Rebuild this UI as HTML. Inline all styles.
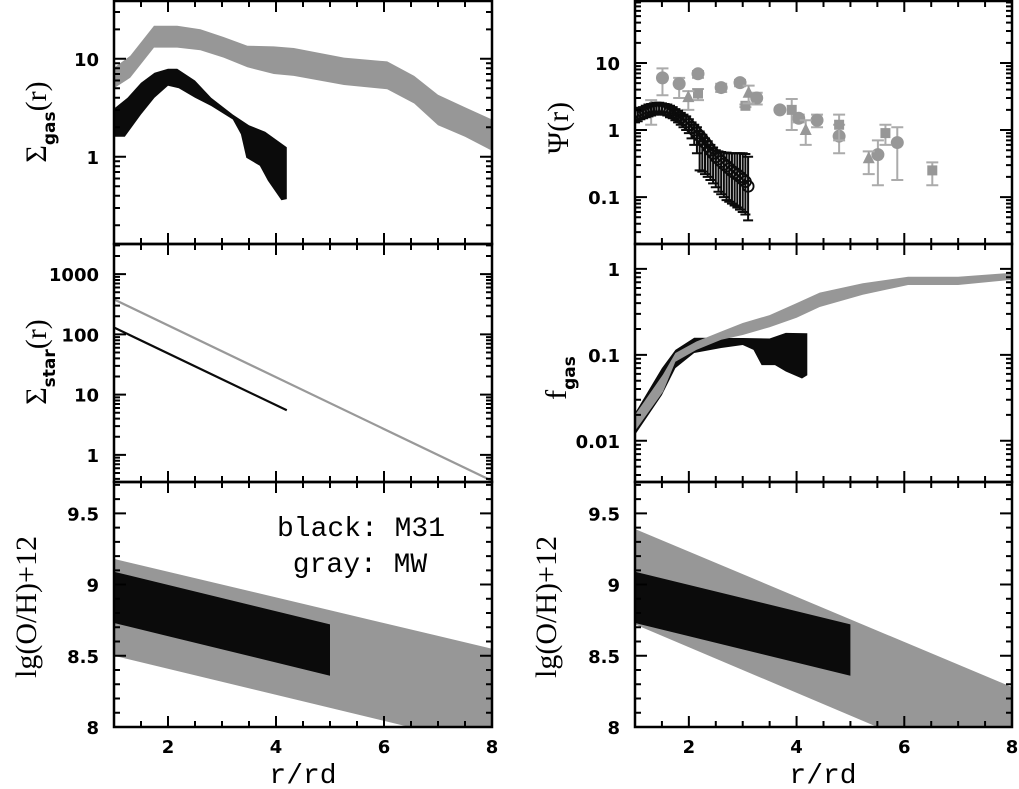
<!DOCTYPE html>
<html><head><meta charset="utf-8"><style>
html,body{margin:0;padding:0;background:#fff;}
svg{display:block;}
.tl{font-family:"DejaVu Sans",sans-serif;font-weight:bold;font-size:18px;fill:#000;}
.ttl{font-family:"Liberation Mono",monospace;font-size:28px;fill:#000;}
.lab{font-family:"Liberation Serif",serif;font-size:30px;fill:#000;}
</style></head><body>
<svg id="fig" width="1019" height="789" viewBox="0 0 1019 789" xmlns="http://www.w3.org/2000/svg"></svg>
<script>
// ---- data ----
const gasMwR = [1.0,1.3,1.74,2.17,2.6,3.03,3.47,3.96,4.33,5.26,6.06,6.56,7.0,7.5,8.0];
const gasMwHi = [8.1,10.7,21.7,21.7,20,16.7,13.6,13.4,12.9,10.3,9.4,6.7,4.3,3.2,2.4];
const gasMwLo = [5.0,6.4,13,13,12.2,10.3,8.2,7.0,6.7,5.4,4.9,3.5,2.1,1.6,1.15];
const gasM31RHi = [1.0,1.25,1.5,1.75,2.0,2.17,2.5,2.8,3.2,3.5,3.8,4.0,4.2];
const gasM31Hi = [3.1,4.0,5.7,7.2,7.9,7.9,6.0,4.0,2.7,2.1,1.8,1.5,1.25];
const gasM31RLo = [1.0,1.2,1.5,1.75,2.0,2.2,2.5,2.8,3.2,3.35,3.45,3.7,3.85,4.1,4.2];
const gasM31Lo = [1.6,1.6,2.7,4.0,5.3,5.0,4.0,3.3,2.4,1.7,0.98,0.81,0.57,0.36,0.37];

const psiM31R = [1.0,1.05,1.1,1.15,1.2,1.25,1.3,1.35,1.4,1.45,1.5,1.55,1.6,1.65,1.7,1.75,1.8,1.85,1.9,1.95,2.0,2.05,2.1,2.15,2.2,2.25,2.3,2.35,2.4,2.45,2.5,2.55,2.6,2.65,2.7,2.75,2.8,2.85,2.9,2.95,3.0,3.05,3.1];
const psiM31 = [1.65,1.7,1.78,1.85,1.92,2.0,2.05,2.1,2.12,2.12,2.1,2.05,2.0,1.9,1.82,1.72,1.62,1.52,1.42,1.32,1.2,1.1,1.0,0.9,0.82,0.73,0.65,0.57,0.5,0.45,0.4,0.37,0.34,0.31,0.29,0.265,0.245,0.23,0.215,0.2,0.185,0.17,0.145];
const psiM31Lo = [1.3,1.35,1.45,1.5,1.55,1.6,1.65,1.7,1.75,1.75,1.7,1.7,1.65,1.55,1.5,1.4,1.3,1.2,1.1,1.0,0.9,0.75,0.6,0.45,0.25,0.24,0.22,0.2,0.18,0.16,0.14,0.12,0.11,0.1,0.09,0.085,0.08,0.075,0.07,0.065,0.06,0.055,0.045];
const psiM31Hi = [2.0,2.05,2.15,2.2,2.3,2.4,2.45,2.5,2.55,2.55,2.5,2.45,2.4,2.3,2.2,2.05,1.95,1.8,1.7,1.6,1.45,1.3,1.2,1.1,0.95,0.85,0.75,0.68,0.6,0.55,0.5,0.48,0.47,0.46,0.46,0.45,0.45,0.45,0.45,0.45,0.45,0.44,0.4];
const psiMwCircR = [1.51,1.82,2.17,2.6,2.95,3.26,3.69,4.04,4.38,4.79,5.51,5.87];
const psiMwCirc = [6.0,4.9,6.9,4.3,5.1,3.0,2.0,1.5,1.4,0.81,0.43,0.65];
const psiMwCircLo = [3.3,3.0,6.0,3.7,4.5,2.4,2.0,1.3,1.1,0.45,0.15,0.18];
const psiMwCircHi = [8.3,6.0,7.6,4.9,5.6,3.6,2.0,1.7,1.7,1.2,0.7,1.1];
const psiMwSqR = [1.30,2.17,3.05,3.91,4.79,5.65,6.52];
const psiMwSq = [2.1,3.5,2.3,2.0,1.2,0.9,0.25];
const psiMwSqLo = [1.2,2.8,2.2,1.0,0.7,0.6,0.15];
const psiMwSqHi = [2.8,4.1,2.4,2.9,1.7,1.2,0.33];
const psiMwTriR = [1.99,3.11,4.17,5.34];
const psiMwTri = [3.1,3.6,1.0,0.38];
const psiMwTriLo = [2.0,2.5,0.6,0.22];
const psiMwTriHi = [3.8,4.6,1.4,0.48];

const starM31R = [1.0,4.2];
const starM31 = [130,5.5];
const starMwR = [1.0,8.0];
const starMw = [380,0.37];

const fMwR = [1.0,1.52,1.75,2.14,2.6,3.0,3.5,4.0,4.43,5.23,6.07,7.0,8.0];
const fMwHi = [0.020,0.059,0.105,0.143,0.187,0.235,0.29,0.40,0.53,0.68,0.81,0.81,0.90];
const fMwLo = [0.013,0.037,0.083,0.114,0.15,0.17,0.21,0.27,0.36,0.50,0.65,0.65,0.75];
const fM31RHi = [1.0,1.5,1.75,2.1,3.0,3.5,3.8,4.2];
const fM31Hi = [0.021,0.070,0.114,0.158,0.157,0.155,0.18,0.178];
const fM31RLo = [1.0,1.5,1.75,2.1,2.6,3.0,3.2,3.35,3.6,3.8,4.1,4.2];
const fM31Lo = [0.0117,0.034,0.07,0.105,0.12,0.13,0.114,0.076,0.076,0.064,0.053,0.058];

const ohR = [1.0,8.0];
const ohMwLeftHi = [9.18,8.55];
const ohMwLeftLo = [8.5,7.86];
const ohMwRightHi = [9.39,8.28];
const ohMwRightLo = [8.72,7.6];
const ohM31R = [1.0,5.0];
const ohM31Hi = [9.09,8.72];
const ohM31Lo = [8.73,8.36];

const xTickLabels = ["2","4","6","8"];
const xTickVals = [2,4,6,8];

// ---- drawing ----
const svg = document.getElementById('fig');
const NS = 'http://www.w3.org/2000/svg';
function mk(tag, attrs, parent){const e=document.createElementNS(NS,tag);for(const k in attrs)e.setAttribute(k,attrs[k]);(parent||svg).appendChild(e);return e;}
const GRAY='#979797', BLACK='#0b0b0b', EGRAY='#ababab';

function panel(x0,x1,y0,y1,log,ymin,ymax){
  return {x0,x1,y0,y1,log,ymin,ymax,
    X:v=>x0+(v-1)/7*(x1-x0),
    Y:v=>{const t=log?Math.log10(v):v;return y1-(t-ymin)/(ymax-ymin)*(y1-y0);}};
}
const L0=114,L1=492,R0=635,R1=1012;
const P = {
  gas: panel(L0,L1,1,244,true,-0.89,1.59),
  psi: panel(R0,R1,1,244,true,-1.70,1.925),
  star: panel(L0,L1,244,482,true,-0.45,3.5),
  fgas: panel(R0,R1,244,482,true,-2.48,0.29),
  ohL: panel(L0,L1,482,727,false,8,9.72),
  ohR: panel(R0,R1,482,727,false,8,9.72)
};

function band(p,rHi,hi,rLo,lo,color,name){
  const g=mk('g',{'clip-path':'url(#clip-'+name.split('-')[0]+')'});
  let d='';
  rHi.forEach((r,i)=>{d+=(i?'L':'M')+p.X(r).toFixed(1)+','+p.Y(hi[i]).toFixed(1);});
  for(let i=rLo.length-1;i>=0;i--) d+='L'+p.X(rLo[i]).toFixed(1)+','+p.Y(lo[i]).toFixed(1);
  const e=mk('path',{d:d+'Z',fill:color},g);
  
  
}
function line(p,r,v,color,w,name){
  let d='';r.forEach((x,i)=>{d+=(i?'L':'M')+p.X(x).toFixed(1)+','+p.Y(v[i]).toFixed(1);});
  const e=mk('path',{d,fill:'none',stroke:color,'stroke-width':w,'clip-path':'url(#clip-star)'});
  
  
}
function errbar(p,r,lo,hi,color,cap,w,g){
  const x=p.X(r),yl=p.Y(lo),yh=p.Y(hi);
  mk('path',{d:`M${x},${yl}L${x},${yh}M${x-cap},${yl}L${x+cap},${yl}M${x-cap},${yh}L${x+cap},${yh}`,stroke:color,'stroke-width':w,fill:'none'},g);
}

const defs=mk('defs',{});
for(const k in P){const p=P[k];const c=mk('clipPath',{id:'clip-'+k},defs);mk('rect',{x:p.x0,y:p.y0,width:p.x1-p.x0,height:p.y1-p.y0},c);}

band(P.gas,gasMwR,gasMwHi,gasMwR,gasMwLo,GRAY,'gas-mw-band');
band(P.gas,gasM31RHi,gasM31Hi,gasM31RLo,gasM31Lo,BLACK,'gas-m31-band');
line(P.star,starMwR,starMw,'#999',2.2,'star-mw-line');
line(P.star,starM31R,starM31,BLACK,2.2,'star-m31-line');
band(P.fgas,fM31RHi,fM31Hi,fM31RLo,fM31Lo,BLACK,'fgas-m31-band');
band(P.fgas,fMwR,fMwHi,fMwR,fMwLo,GRAY,'fgas-mw-band');
band(P.ohL,ohR,ohMwLeftHi,ohR,ohMwLeftLo,GRAY,'ohL-mw-band');
band(P.ohL,ohM31R,ohM31Hi,ohM31R,ohM31Lo,BLACK,'ohL-m31-band');
band(P.ohR,ohR,ohMwRightHi,ohR,ohMwRightLo,GRAY,'ohR-mw-band');
band(P.ohR,ohM31R,ohM31Hi,ohM31R,ohM31Lo,BLACK,'ohR-m31-band');

const pg=mk('g',{'clip-path':'url(#clip-psi)'});


const p=P.psi;
psiMwCircR.forEach((r,i)=>{errbar(p,r,psiMwCircLo[i],psiMwCircHi[i],EGRAY,6,2,pg);
  mk('circle',{cx:p.X(r),cy:p.Y(psiMwCirc[i]),r:6.5,fill:GRAY},pg);});
psiMwSqR.forEach((r,i)=>{errbar(p,r,psiMwSqLo[i],psiMwSqHi[i],EGRAY,6,2,pg);
  mk('rect',{x:p.X(r)-5,y:p.Y(psiMwSq[i])-5,width:10,height:10,fill:GRAY},pg);});
psiMwTriR.forEach((r,i)=>{errbar(p,r,psiMwTriLo[i],psiMwTriHi[i],EGRAY,6,2,pg);
  const x=p.X(r),y=p.Y(psiMwTri[i]);
  mk('path',{d:`M${x},${y-7}L${x+6},${y+5}L${x-6},${y+5}Z`,fill:GRAY},pg);});
const bg=mk('g',{'clip-path':'url(#clip-psi)'});


psiM31R.forEach((r,i)=>{errbar(p,r,psiM31Lo[i],psiM31Hi[i],BLACK,5,2,bg);});
psiM31R.forEach((r,i)=>{mk('circle',{cx:p.X(r),cy:p.Y(psiM31[i]),r:5.5,fill:'none',stroke:BLACK,'stroke-width':1.8},bg);});

function axes(p,name,yticks,ylabels,showX){
  const g=mk('g',{});
  
  
  let d='';
  for(let v=1;v<=8.001;v+=0.5){const x=p.X(v);const L=(Math.abs(v-Math.round(v/2)*2)<1e-6)?11:6;
    d+=`M${x},${p.y1}L${x},${p.y1-L}M${x},${p.y0}L${x},${p.y0+L}`;}
  yticks.forEach(t=>{const y=t.y;if(y<p.y0-0.5||y>p.y1+0.5)return;const L=t.major?12:6;
    d+=`M${p.x0},${y}L${p.x0+L},${y}M${p.x1},${y}L${p.x1-L},${y}`;});
  mk('path',{d,stroke:'#000','stroke-width':2,fill:'none'},g);
  mk('rect',{x:p.x0,y:p.y0,width:p.x1-p.x0,height:p.y1-p.y0,fill:'none',stroke:'#000','stroke-width':2.5},g);
  ylabels.forEach(t=>{const e=mk('text',{x:p.x0-15,y:t.y+7,'text-anchor':'end',class:'tl'},g);e.textContent=t.s;});
  if(showX){xTickVals.forEach((v,i)=>{const e=mk('text',{x:p.X(v),y:753,'text-anchor':'middle',class:'tl'},g);e.textContent=xTickLabels[i];});}
}
function logTicks(p,lo,hi){const a=[];for(let e=lo;e<=hi;e++)for(let m=1;m<10;m++)a.push({y:p.Y(m*Math.pow(10,e)),major:m===1});return a;}
function linTicks(p){const a=[];for(let v=8;v<=9.75;v+=0.1)a.push({y:p.Y(v),major:Math.abs(v*2-Math.round(v*2))<1e-6});return a;}
axes(P.gas,'gas',logTicks(P.gas,-1,1),[{y:P.gas.Y(10),s:'10'},{y:P.gas.Y(1),s:'1'}],false);
axes(P.psi,'psi',logTicks(P.psi,-2,1),[{y:P.psi.Y(10),s:'10'},{y:P.psi.Y(1),s:'1'},{y:P.psi.Y(0.1),s:'0.1'}],false);
axes(P.star,'star',logTicks(P.star,-1,3),[{y:P.star.Y(1000),s:'1000'},{y:P.star.Y(100),s:'100'},{y:P.star.Y(10),s:'10'},{y:P.star.Y(1),s:'1'}],false);
axes(P.fgas,'fgas',logTicks(P.fgas,-3,0),[{y:P.fgas.Y(1),s:'1'},{y:P.fgas.Y(0.1),s:'0.1'},{y:P.fgas.Y(0.01),s:'0.01'}],false);
['ohL','ohR'].forEach(k=>axes(P[k],k,linTicks(P[k]),[{y:P[k].Y(9.5),s:'9.5'},{y:P[k].Y(9),s:'9'},{y:P[k].Y(8.5),s:'8.5'},{y:P[k].Y(8),s:'8'}],true));
</script>
<div style="position:absolute;left:0;top:0;width:1019px;height:789px;pointer-events:none;">
<svg width="1019" height="789" xmlns="http://www.w3.org/2000/svg" style="position:absolute;left:0;top:0">
  <g transform="translate(46,122) rotate(-90)">
    <text class="lab" text-anchor="middle" x="0" y="0">Σ<tspan font-family="DejaVu Sans" font-weight="bold" font-size="17" dy="9">gas</tspan><tspan dy="-9">(r)</tspan></text>
  </g>
  <g transform="translate(568,128) rotate(-90)">
    <text class="lab" text-anchor="middle" x="0" y="0" font-size="34">Ψ(r)</text>
  </g>
  <g transform="translate(46,362) rotate(-90)">
    <text class="lab" text-anchor="middle" x="0" y="0">Σ<tspan font-family="DejaVu Sans" font-weight="bold" font-size="17" dy="9">star</tspan><tspan dy="-9">(r)</tspan></text>
  </g>
  <g transform="translate(566,378) rotate(-90)">
    <text class="lab" text-anchor="middle" x="0" y="0">f<tspan font-family="DejaVu Sans" font-weight="bold" font-size="17" dy="9">gas</tspan></text>
  </g>
  <g transform="translate(36,607) rotate(-90)">
    <text class="lab" text-anchor="middle" x="0" y="0" font-size="33">lg(O/H)+12</text>
  </g>
  <g transform="translate(556,607) rotate(-90)">
    <text class="lab" text-anchor="middle" x="0" y="0" font-size="33">lg(O/H)+12</text>
  </g>
  <text class="ttl" x="303" y="783" text-anchor="middle">r/rd</text>
  <text class="ttl" x="823" y="783" text-anchor="middle">r/rd</text>
  <text class="ttl" x="361" y="536" text-anchor="middle" font-size="25">black: M31</text>
  <text class="ttl" x="360" y="572" text-anchor="middle" font-size="25">gray: MW</text>
</svg>
</div>
</body></html>
